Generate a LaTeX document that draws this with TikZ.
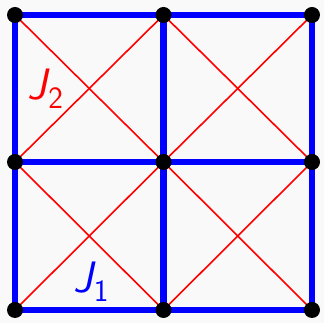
\documentclass[tikz,border=0pt]{standalone}
\usepackage{tikz}

\definecolor{bgray}{RGB}{249,249,249}
\newcommand{\coup}[1]{{\sffamily\fontsize{44}{48}\selectfont\slshape J\kern1pt\raisebox{-9pt}{\upshape\fontsize{31}{33}\selectfont #1}}}

\begin{document}
\begin{tikzpicture}[x=1pt,y=1pt,
  site/.style={circle, fill=black, inner sep=0pt, minimum size=16pt},
  bondA/.style={blue, line width=6.5pt},
  bondB/.style={red, line width=1.6pt},
  lbl/.style={inner sep=0pt}]
  % canvas 324 x 323
  \fill[bgray] (0,0) rectangle (324,323);
  \useasboundingbox (0,0) rectangle (324,323);

  % sites of the 3x3 lattice
  \foreach \i/\x in {0/15,1/163.5,2/312}{
    \foreach \j/\y in {0/13,1/161,2/308}{
      \coordinate (s-\i-\j) at (\x,\y); }}

  % next-nearest neighbours (diagonals)
  \foreach \i/\ii in {0/1,1/2}{
    \foreach \j/\jj in {0/1,1/2}{
      \draw[bondB] (s-\i-\j) -- (s-\ii-\jj);
      \draw[bondB] (s-\ii-\j) -- (s-\i-\jj); }}

  % nearest neighbours
  \foreach \k in {0,1,2}{
    \draw[bondA] (s-0-\k) -- (s-1-\k) -- (s-2-\k);
    \draw[bondA] (s-\k-0) -- (s-\k-1) -- (s-\k-2); }

  \foreach \i in {0,1,2}{
    \foreach \j in {0,1,2}{
      \node[site] (n-\i-\j) at (s-\i-\j) {}; }}

  \node[lbl, text=red] (J2) at (45.5,234) {\coup{2}};
  \node[lbl, text=blue] (J1) at (91,41.5) {\coup{1}};
\end{tikzpicture}
\end{document}
